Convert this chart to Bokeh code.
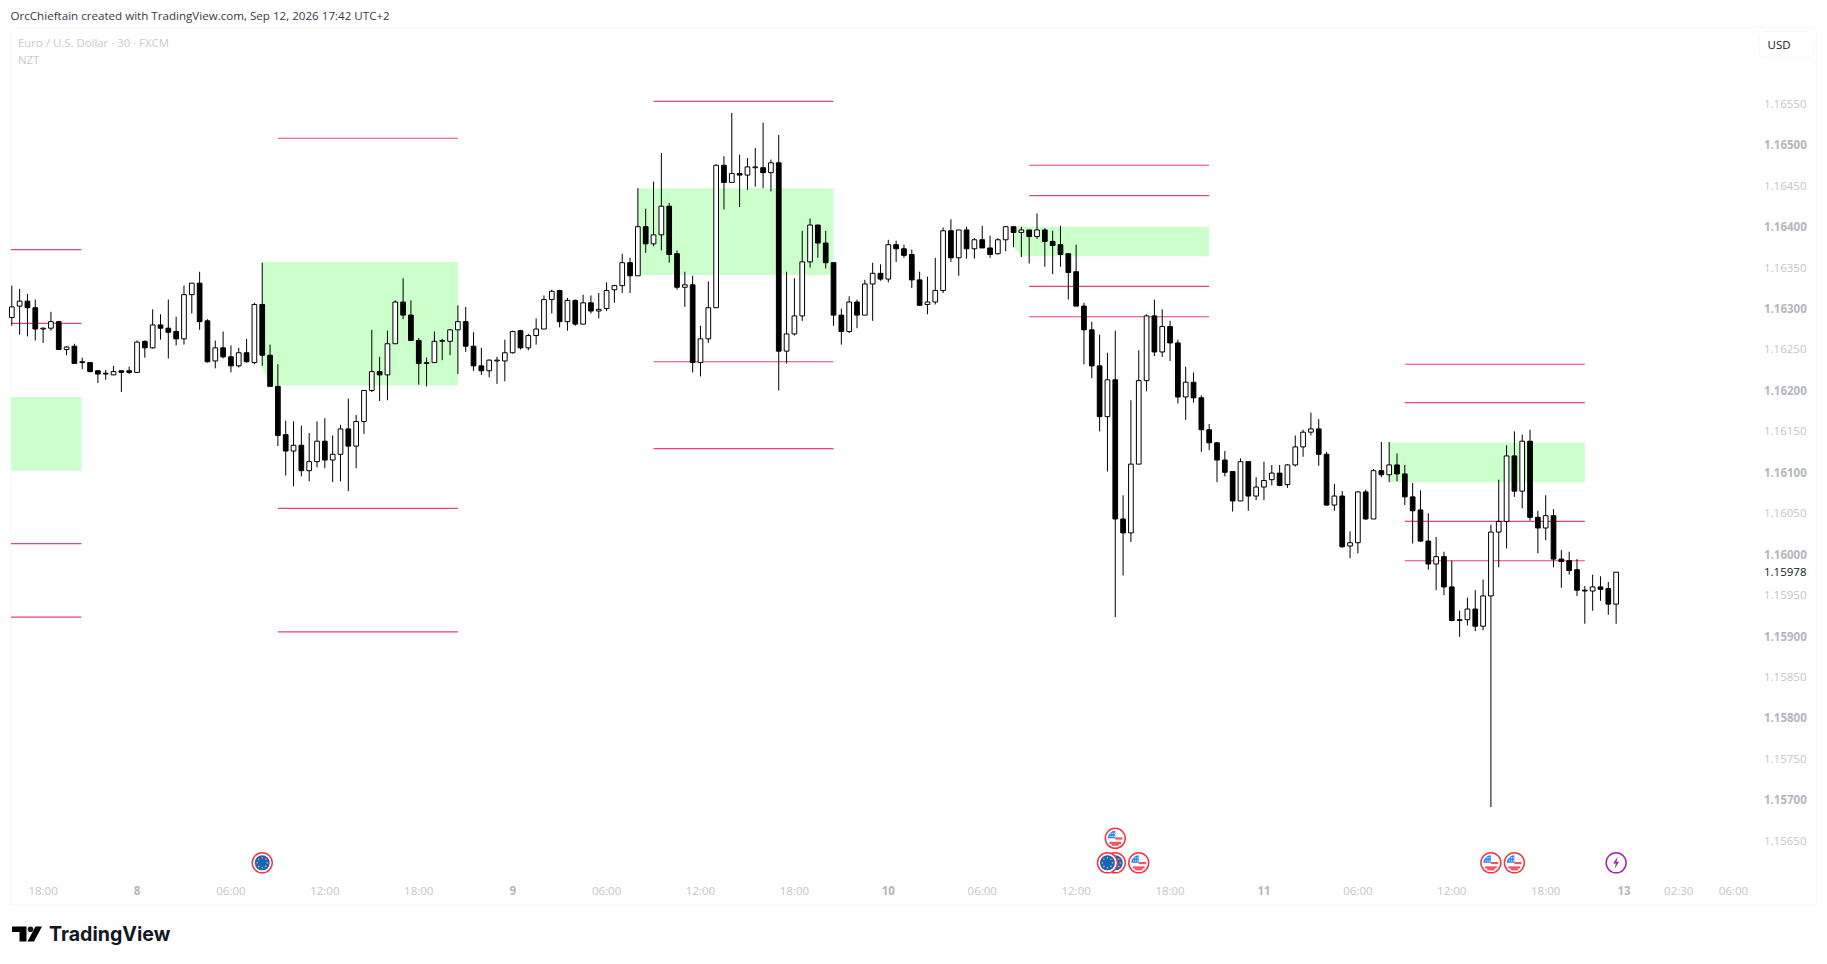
import math
import numpy as np
from bokeh.embed import file_html
from bokeh.resources import INLINE
from bokeh.plotting import figure
from bokeh.models import LinearAxis, FixedTicker, BoxAnnotation, Label

# ---- OHLC of the 206 half-hour candles, in 1/100000 of a dollar ----
opens = [116289,116303,116309,116301,116275,116276,116284,116250,116254,116235,116234,116224,116221,116219,116224,116224,116222,116260,116252,116280,116276,116272,116263,116317,116331,116285,116236,116252,116241,116230,116246,116234,116305,116243,116205,116146,116126,116133,116102,116113,116138,116115,116122,116153,116132,116162,116200,116223,116219,116257,116308,116292,116261,116233,116234,116260,116260,116274,116284,116254,116230,116224,116236,116236,116246,116273,116252,116267,116275,116311,116322,116284,116310,116281,116307,116297,
116300,116323,116328,116356,116340,116400,116379,116390,116425,116367,116326,116329,116234,116263,116301,116475,116454,116465,116463,116472,116472,116466,116478,116248,116269,116291,116357,116402,116380,116356,116292,116272,116308,116292,116330,116343,116336,116378,116373,116366,116335,116305,116308,116322,116395,116362,116396,116373,116384,116374,116367,116384,116400,116393,116396,116388,116396,116382,116378,116367,116345,116303,116274,116230,116168,116213,116043,116026,116110,116212,116291,116247,116278,116258,116192,116210,
116191,116152,116136,116115,116101,116065,116113,116071,116082,116091,116099,116085,116109,116131,116149,116153,116122,116060,116071,116010,116014,116076,116043,116102,116097,116109,116098,116070,116054,116016,115988,115997,115960,115919,115920,115933,115912,115949,116027,116040,116120,116077,116138,116045,116032,116047,115994,115992,115981,115956,115955,115960,115958,115939]
highs = [116328,116324,116318,116311,116277,116296,116285,116254,116257,116240,116234,116224,116225,116230,116224,116229,116261,116261,116299,116293,116311,116290,116328,116331,116345,116287,116261,116272,116255,116252,116263,116307,116356,116256,116232,116163,116162,116157,116148,116162,116166,116145,116158,116190,116170,116200,116274,116241,116273,116310,116337,116310,116264,116240,116272,116263,116275,116304,116302,116271,116252,116238,116241,116262,116273,116274,116269,116288,116316,116323,116323,116313,116311,116317,116316,116319,
116332,116329,116367,116362,116447,116422,116455,116490,116429,116371,116345,116340,116279,116333,116476,116486,116539,116488,116484,116496,116527,116482,116512,116345,116337,116395,116410,116402,116395,116356,116300,116315,116311,116335,116356,116354,116384,116383,116378,116372,116345,116339,116362,116399,116409,116396,116400,116386,116401,116389,116386,116401,116400,116400,116396,116416,116398,116395,116401,116367,116378,116307,116284,116268,116246,116273,116072,116188,116249,116293,116311,116299,116285,116262,116229,116222,
116194,116159,116137,116126,116101,116117,116113,116094,116113,116109,116109,116110,116145,116152,116173,116165,116125,116086,116077,116028,116077,116079,116104,116137,116137,116123,116109,116087,116078,116050,116021,116003,115992,115931,115947,115956,115969,116036,116091,116133,116150,116146,116152,116053,116072,116055,116005,116003,115994,115961,115975,115973,115966,115978]
lows = [116279,116268,116266,116261,116258,116273,116250,116243,116233,116226,116222,116209,116213,116219,116198,116220,116222,116240,116251,116262,116239,116255,116256,116294,116274,116234,116227,116239,116222,116228,116234,116232,116230,116205,116132,116096,116083,116095,116089,116106,116105,116088,116089,116077,116105,116147,116198,116187,116188,116257,116287,116261,116207,116205,116234,116237,116243,116220,116247,116224,116219,116216,116208,116211,116245,116250,116249,116256,116275,116294,116277,116273,116279,116281,116294,116288,
116297,116307,116319,116319,116340,116368,116376,116371,116356,116323,116302,116222,116217,116258,116301,116421,116454,116424,116445,116449,116447,116443,116200,116233,116267,116285,116350,116362,116349,116279,116256,116270,116276,116292,116285,116334,116332,116357,116362,116325,116304,116293,116305,116319,116357,116340,116361,116361,116374,116362,116366,116370,116375,116363,116355,116385,116351,116342,116351,116311,116303,116232,116215,116150,116101,115923,115974,116015,116110,116199,116242,116241,116236,116184,116164,116185,
116125,116127,116088,116095,116052,116065,116053,116066,116066,116084,116083,116081,116107,116119,116145,116108,116059,116053,116008,115995,116001,116042,116043,116094,116088,116089,116060,116013,116015,115981,115956,115950,115918,115899,115913,115906,115907,115691,115984,116007,116070,116056,116041,116001,116017,115984,115959,115975,115949,115915,115931,115943,115926,115915]
closes = [116302,116309,116301,116275,116276,116284,116250,116253,116233,116234,116223,116220,116220,116223,116222,116222,116259,116252,116280,116276,116271,116263,116317,116331,116284,116235,116252,116241,116230,116246,116235,116305,116243,116205,116145,116126,116133,116102,116113,116138,116115,116122,116153,116132,116162,116200,116223,116219,116257,116308,116292,116261,116233,116234,116260,116261,116274,116284,116254,116230,116224,116237,116237,116246,116272,116252,116267,116275,116311,116321,116284,116310,116281,116307,116297,116299,
116322,116328,116356,116340,116400,116379,116390,116425,116366,116326,116329,116234,116263,116301,116475,116454,116465,116463,116473,116473,116466,116478,116248,116269,116291,116357,116402,116380,116356,116292,116272,116308,116292,116330,116343,116336,116378,116373,116365,116335,116304,116308,116322,116395,116362,116396,116373,116384,116374,116366,116384,116400,116393,116396,116388,116396,116382,116377,116366,116344,116303,116274,116230,116168,116213,116043,116026,116110,116212,116291,116247,116278,116258,116192,116210,116191,
116152,116136,116115,116100,116065,116113,116071,116082,116090,116099,116084,116109,116131,116149,116153,116122,116060,116071,116009,116014,116076,116043,116102,116097,116109,116098,116070,116053,116016,115988,115997,115960,115919,115920,115933,115912,115949,116027,116040,116120,116077,116138,116045,116032,116047,115994,115991,115980,115956,115955,115960,115957,115939,115978]

# ---- drawn zones and levels (bar index, price) ----
zone_left = [-0.1, 32, 80, 128, 176]
zone_foot = [-0.1, 33, 80.4, 129, 176]
zone_right = [8.9, 57, 105, 153, 201]
zone_top = [1.16192, 1.16357, 1.16447, 1.16400, 1.16136]
zone_bottom = [1.16102, 1.16206, 1.16341, 1.16364, 1.16088]
zone_knee = [1.16102, 1.16228, 1.16358, 1.16375, 1.16088]

level_start = [-0.1, -0.1, -0.1, -0.1, 34, 34, 34, 82, 82, 82, 130, 130, 130, 130, 178, 178, 178, 178]
level_end = [8.9, 8.9, 8.9, 8.9, 57, 57, 57, 105, 105, 105, 153, 153, 153, 153, 201, 201, 201, 201]
level_price = [1.16372, 1.16282, 1.16013, 1.15923, 1.16508, 1.16056, 1.15905, 1.16553, 1.16235, 1.16129,
               1.16475, 1.16438, 1.16327, 1.16290, 1.16232, 1.16185, 1.16040, 1.15992]

# ---- axes ----
price_regular = [1.16550, 1.16450, 1.16350, 1.16250, 1.16150, 1.16050, 1.15950, 1.15850, 1.15750, 1.15650]
price_bold = [1.16500, 1.16400, 1.16300, 1.16200, 1.16100, 1.16000, 1.15900, 1.15800, 1.15700]
last_price = 1.15978
time_ticks = [4, 28, 40, 52, 76, 88, 100, 124, 136, 148, 172, 184, 196, 213, 220]
time_labels = ["18:00", "06:00", "12:00", "18:00", "06:00", "12:00", "18:00", "06:00", "12:00", "18:00",
               "06:00", "12:00", "18:00", "02:30", "06:00"]
day_ticks = [16, 64, 112, 160, 206]
day_labels = ["8", "9", "10", "11", "13"]

# ---- calendar events: bar index ----
eur_events = [32, 141, 140]
us_events_low = [144, 189, 192]
us_events_high = [141]
other_event = [205]
ROW_LOW, ROW_HIGH = 1.15623, 1.15653

# ---- layout: page pixels <-> data ----
PX_PER_BAR = 7.826
X0 = 11.3
PX_PER_PRICE = 81875.0
Y_REF = 144.3
def X(px): return (px - X0) / PX_PER_BAR
def P(py): return 1.165 - (py - Y_REF) / PX_PER_PRICE
DX, DY = 1 / PX_PER_BAR, 1 / PX_PER_PRICE

p = figure(width=1827, height=964, x_range=(X(0), X(1827)), y_range=(P(964), P(0)),
           output_backend="svg", toolbar_location=None, x_axis_location=None, y_axis_location=None,
           min_border=0, min_border_left=0, min_border_right=0, min_border_top=0, min_border_bottom=0,
           background_fill_color="white", border_fill_color="white", outline_line_color=None)
p.grid.visible = False
p.stylesheets = ['path{shape-rendering:crispEdges}']

# frame
p.add_layout(BoxAnnotation(left=X(10), right=X(1816), top=P(27), bottom=P(904), fill_color=None,
                           line_color="#f0f3fa", line_width=2, level="underlay"))
p.add_layout(BoxAnnotation(left=X(1756), right=X(1757), top=P(28), bottom=P(903), fill_color="#f9fafc",
                           line_color=None, level="underlay"))

# zones
zx, zy = [], []
for i in range(len(zone_left)):
    zx.append([zone_left[i], zone_right[i], zone_right[i], zone_foot[i], zone_left[i]])
    zy.append([zone_top[i], zone_top[i], zone_bottom[i], zone_bottom[i], zone_knee[i]])
p.patches(zx, zy, fill_color="#ccffcc", line_color=None)

# levels
p.segment(level_start, level_price, level_end, level_price, line_color="#ec407a", line_width=1.2)

# candles
idx = np.arange(len(opens))
o, h, l, c = [np.array(a) / 1e5 for a in (opens, highs, lows, closes)]
up = c >= o
p.segment(idx, h, idx, l, line_color="#000000", line_width=1)
W = 4.7 / PX_PER_BAR
p.vbar(idx[up], W, c[up], o[up], fill_color="#ffffff", line_color="#000000", line_width=1)
p.vbar(idx[~up], W, o[~up], c[~up], fill_color="#000000", line_color="#000000", line_width=1)

# events
RED = "#f23645"
def ring(xs, ys, color=RED):
    p.scatter(xs, ys, marker="circle", size=20, fill_color="white", line_color=color, line_width=1.5)

def eur(x, y):
    ring([x], [y])
    p.scatter([x], [y], marker="circle", size=15, fill_color="#1565c0", line_color=None)
    sx = [x + 5 * DX * math.cos(a * math.pi / 4) for a in range(8)]
    sy = [y + 5 * DY * math.sin(a * math.pi / 4) for a in range(8)]
    p.scatter(sx, sy, marker="circle", size=1.6, fill_color="#ffc107", line_color=None)

def usa(x, y):
    ring([x], [y])
    p.wedge([x], [y], radius=7.6, radius_units="screen", start_angle=math.pi / 2, end_angle=math.pi,
            fill_color="#2f86f0", line_color=None)
    dx = [x + a * DX for a in (-5, -3, -1, -5, -3, -1)]
    dy = [y + b * DY for b in (2, 2, 2, 5, 5, 5)]
    p.scatter(dx, dy, marker="circle", size=1.3, fill_color="white", line_color=None)
    for off, half_l, half_r in ((-0.2, 0.0, 7.2), (-4.6, 5.8, 5.8), (-6.4, 3.6, 3.6)):
        p.segment([x - half_l * DX], [y + off * DY], [x + half_r * DX], [y + off * DY],
                  line_color="#f7525f", line_width=2.2)

for b in eur_events:
    eur(b, ROW_LOW)
for b in us_events_low:
    usa(b, ROW_LOW)
for b in us_events_high:
    usa(b, ROW_HIGH)

PURPLE = "#9c27b0"
for b in other_event:
    ring([b], [ROW_LOW], PURPLE)
    bolt = [(1.5, 6), (-3, -0.7), (-0.3, -0.7), (-1.5, -6), (3, 1), (0.4, 1)]
    p.patch([b + a * DX for a, _ in bolt], [ROW_LOW + q * DY for _, q in bolt], fill_color=PURPLE, line_color=None)

# axes drawn in place
AXFONT = "Open Sans"
def price_axis(ticks, color, style):
    ax = LinearAxis(ticker=FixedTicker(ticks=ticks), fixed_location=X(1763.5),
                    major_label_overrides={t: f"{t:.5f}" for t in ticks})
    ax.axis_line_color = None
    ax.major_tick_line_color = None
    ax.minor_tick_line_color = None
    ax.major_tick_out = 0
    ax.major_tick_in = 0
    ax.major_label_standoff = 0
    ax.major_label_text_font = AXFONT
    ax.major_label_text_font_size = "11.5px"
    ax.major_label_text_color = color
    ax.major_label_text_font_style = style
    p.add_layout(ax, "right")

price_axis(price_regular, "#c3c5cc", "normal")
price_axis(price_bold, "#b4b6bd", "bold")
price_axis([last_price], "#131722", "normal")

def time_axis(ticks, labels, color, style, py):
    ax = LinearAxis(ticker=FixedTicker(ticks=ticks), fixed_location=P(py),
                    major_label_overrides=dict(zip(ticks, labels)))
    ax.axis_line_color = None
    ax.major_tick_line_color = None
    ax.minor_tick_line_color = None
    ax.major_tick_out = 0
    ax.major_tick_in = 0
    ax.major_label_standoff = 0
    ax.major_label_text_font = AXFONT
    ax.major_label_text_font_size = "11.5px"
    ax.major_label_text_color = color
    ax.major_label_text_font_style = style
    p.add_layout(ax, "below")

time_axis(time_ticks, time_labels, "#c3c5cc", "normal", 882.5)
time_axis(day_ticks, day_labels, "#b4b6bd", "bold", 885)

# texts
def label(px, py, text, size, color, font="Open Sans", style="normal"):
    p.add_layout(Label(x=X(px), y=P(py), text=text, text_font=font, text_font_size=size, text_color=color,
                       text_baseline="middle", text_align="left", text_font_style=style))

label(10, 14.5, "OrcChieftain created with TradingView.com, Sep 12, 2026 17:42 UTC+2", "11.6px", "#363a45")
label(17.5, 42, "Euro / U.S. Dollar · 30 · FXCM", "11.4px", "#c8cad0")
label(17.5, 59, "NZT", "11.4px", "#c8cad0")

# currency button
p.add_layout(BoxAnnotation(left=X(1759), right=X(1813), top=P(31), bottom=P(57), fill_color="white",
                           line_color="#e8eaf0", line_width=1, border_radius=5, level="annotation"))
label(1767, 44, "USD", "11.5px", "#131722")

# TradingView mark
t_x = [X(v) for v in (11.5, 26, 26, 19, 19, 11.5)]
t_y = [P(v) for v in (926, 926, 941, 941, 931.5, 931.5)]
p.patch(t_x, t_y, fill_color="#000000", line_color=None)
p.scatter([X(30)], [P(928.8)], marker="circle", size=5.6, fill_color="#131722", line_color=None)
s_x = [X(v) for v in (35, 41.5, 33.5, 27)]
s_y = [P(v) for v in (926, 926, 941, 941)]
p.patch(s_x, s_y, fill_color="#000000", line_color=None)
label(48.5, 933.5, "TradingView", "19.6px", "#131722", "Inter", "bold")

open("out.html", "w").write(file_html(p, INLINE))
